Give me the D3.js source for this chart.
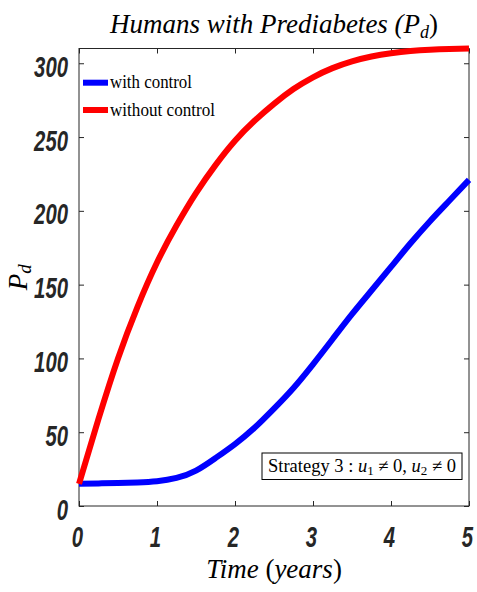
<!DOCTYPE html>
<html><head><meta charset="utf-8">
<script src="https://cdn.jsdelivr.net/npm/d3@7"></script>
<style>body{margin:0;background:#fff}svg{display:block}</style>
</head><body>
<svg id="c" width="477" height="592"></svg>
<script>
const times = [0,0.25,0.5,0.75,1,1.25,1.5,1.75,2,2.25,2.5,2.75,3,3.25,3.5,3.75,4,4.25,4.5,4.75,5];
const withControl = [15,15.3,15.6,16,16.8,19,24,32.5,42,53,66,80,96,113,130,146,162,178,193,207,221];
const withoutControl = [15,59,100,135,165,190,212,231,247.5,261,272.5,282.5,290.5,296.7,301.3,304.6,306.8,308.3,309.2,309.7,310];
const xTicks = [0,1,2,3,4,5];
const yTicks = [0,50,100,150,200,250,300];
const seriesNames = ["with control","without control"];
const seriesColors = ["#0000ff","#ff0000"];

const svg = d3.select("#c");
const L=79, R=469, T=48.5, B=506;
const x = d3.scaleLinear().domain([0,5]).range([L,R]);
const y = d3.scaleLinear().domain([0,310]).range([B,T]);
const axCol = "#262626";
const tickFont = "'Liberation Sans',Arial,sans-serif";

svg.append("rect").attr("x",L).attr("y",T).attr("width",R-L).attr("height",B-T)
  .attr("fill","none").attr("stroke",axCol).attr("stroke-width",1);

const gx = svg.append("g").attr("transform",`translate(0,${B})`)
  .call(d3.axisBottom(x).tickValues(xTicks).tickSize(-5).tickPadding(21).tickFormat(d3.format("d")));
const gxt = svg.append("g").attr("transform",`translate(0,${T})`)
  .call(d3.axisTop(x).tickValues(xTicks).tickSize(-5).tickFormat(""));
const gy = svg.append("g").attr("transform",`translate(${L},0)`)
  .call(d3.axisLeft(y).tickValues(yTicks).tickSize(-5).tickPadding(11).tickFormat(d3.format("d")));
const gyr = svg.append("g").attr("transform",`translate(${R},0)`)
  .call(d3.axisRight(y).tickValues(yTicks).tickSize(-5).tickFormat(""));
[gx,gxt,gy,gyr].forEach(g=>{
  g.select(".domain").remove();
  g.selectAll(".tick line").attr("stroke",axCol);
  g.selectAll("text").attr("fill",axCol).style("font-family",tickFont)
   .style("font-weight","bold").style("font-style","italic").style("font-size","29px")
   .each(function(){ const s=d3.select(this); const t=s.text();
     if(t) s.attr("textLength",t.length*11.3).attr("lengthAdjust","spacingAndGlyphs"); });
});
gy.selectAll("text").attr("dy","0.45em");
gx.selectAll("text").attr("dy","0.7em").attr("x",-2);

const line = d3.line().x((d,i)=>x(times[i])).y(d=>y(d)).curve(d3.curveNatural);
svg.append("path").datum(withControl).attr("d",line).attr("fill","none")
  .attr("stroke",seriesColors[0]).attr("stroke-width",6);
svg.append("path").datum(withoutControl).attr("d",line).attr("fill","none")
  .attr("stroke",seriesColors[1]).attr("stroke-width",6);

const serif = "'Liberation Serif','Times New Roman',serif";
seriesNames.forEach((n,i)=>{
  const yy = 82.7 + i*27.3;
  svg.append("line").attr("x1",83).attr("x2",108).attr("y1",yy).attr("y2",yy)
    .attr("stroke",seriesColors[i]).attr("stroke-width",6);
  svg.append("text").attr("x",110).attr("y",yy+5.5).text(n)
    .style("font-family",serif).style("font-size","18.5px").attr("fill","#000")
    .attr("textLength", i===0?82:105).attr("lengthAdjust","spacingAndGlyphs");
});

const title = svg.append("text").attr("x",(L+R)/2).attr("y",33).attr("text-anchor","middle")
  .style("font-family",serif).style("font-style","italic").style("font-size","27px").attr("fill","#000");
title.append("tspan").text("Humans with Prediabetes (");
title.append("tspan").text("P");
title.append("tspan").attr("dy",5).style("font-size","18px").text("d");
title.append("tspan").attr("dy",-5).style("font-style","normal").text(")");

const xl = svg.append("text").attr("x",(L+R)/2).attr("y",578).attr("text-anchor","middle")
  .style("font-family",serif).style("font-style","italic").style("font-size","27px").attr("fill","#000");
xl.append("tspan").text("Time ");
xl.append("tspan").style("font-style","normal").text("(");
xl.append("tspan").text("years");
xl.append("tspan").style("font-style","normal").text(")");

const yl = svg.append("text").attr("transform",`translate(27,${(T+B)/2}) rotate(-90)`)
  .attr("text-anchor","middle")
  .style("font-family",serif).style("font-style","italic").style("font-size","27px").attr("fill","#000");
yl.append("tspan").text("P");
yl.append("tspan").attr("dy",4).style("font-size","19px").text("d");

svg.append("rect").attr("x",262).attr("y",453).attr("width",200).attr("height",26.5)
  .attr("fill","#fff").attr("stroke","#000").attr("stroke-width",1);
const ann = svg.append("text").attr("x",362).attr("y",472).attr("text-anchor","middle")
  .style("font-family",serif).style("font-size","18.5px").attr("fill","#000");
ann.append("tspan").text("Strategy 3 : ");
ann.append("tspan").style("font-style","italic").text("u");
ann.append("tspan").attr("dy",3).style("font-size","13px").text("1");
ann.append("tspan").attr("dy",-3).text(" \u2260 0,  ");
ann.append("tspan").style("font-style","italic").text("u");
ann.append("tspan").attr("dy",3).style("font-size","13px").text("2");
ann.append("tspan").attr("dy",-3).text(" \u2260 0");
</script>
</body></html>
